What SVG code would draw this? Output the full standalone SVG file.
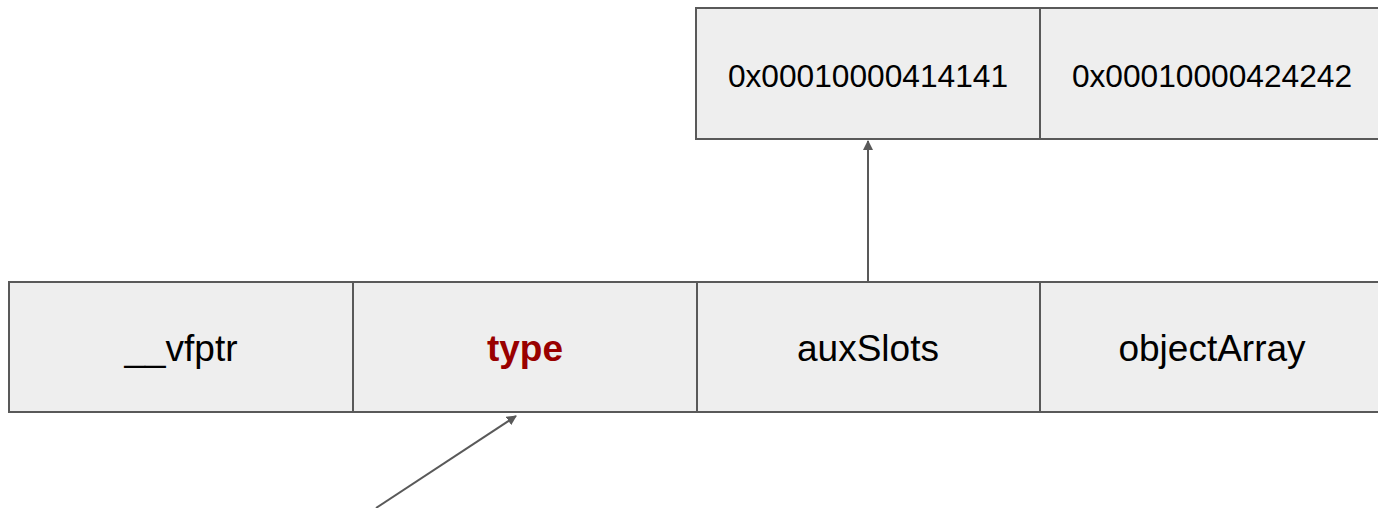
<svg xmlns="http://www.w3.org/2000/svg" width="1378" height="508" viewBox="0 0 1378 508">
<defs>
<style>
.cell{fill:#eeeeee;stroke:#595959;stroke-width:2}
.lbl{font-family:"Liberation Sans",Arial,sans-serif;font-size:37px;fill:#000;text-anchor:middle}
.hex{font-family:"Liberation Sans",Arial,sans-serif;font-size:31.7px;fill:#000;text-anchor:middle}
.red{font-weight:bold;fill:#990000}
.conn{stroke:#595959;stroke-width:2;fill:none}
</style>
<marker id="ah" viewBox="0 0 10 10" refX="9" refY="5" markerWidth="5" markerHeight="5" orient="auto" markerUnits="strokeWidth">
<path d="M0,0 L10,5 L0,10 z" fill="#595959"/>
</marker>
</defs>
<rect width="1378" height="508" fill="#ffffff"/>
<g id="hex1"><rect class="cell" x="696" y="8" width="344" height="131"/><text class="hex" x="868" y="86.5">0x00010000414141</text></g>
<g id="hex2"><rect class="cell" x="1040" y="8" width="344" height="131"/><text class="hex" x="1212" y="86.5">0x00010000424242</text></g>
<g id="vfptr"><rect class="cell" x="9" y="282" width="344" height="130"/><text class="lbl" x="181" y="361">__vfptr</text></g>
<g id="type"><rect class="cell" x="353" y="282" width="344" height="130"/><text class="lbl red" x="525" y="361">type</text></g>
<g id="auxSlots"><rect class="cell" x="697" y="282" width="343" height="130"/><text class="lbl" x="868" y="361">auxSlots</text></g>
<g id="objectArray"><rect class="cell" x="1040" y="282" width="344" height="130"/><text class="lbl" x="1212" y="361">objectArray</text></g>
<g id="connectors">
<line class="conn" x1="868" y1="282" x2="868" y2="141" marker-end="url(#ah)"/>
<line class="conn" x1="376" y1="508" x2="516" y2="416" marker-end="url(#ah)"/>
</g>
</svg>
